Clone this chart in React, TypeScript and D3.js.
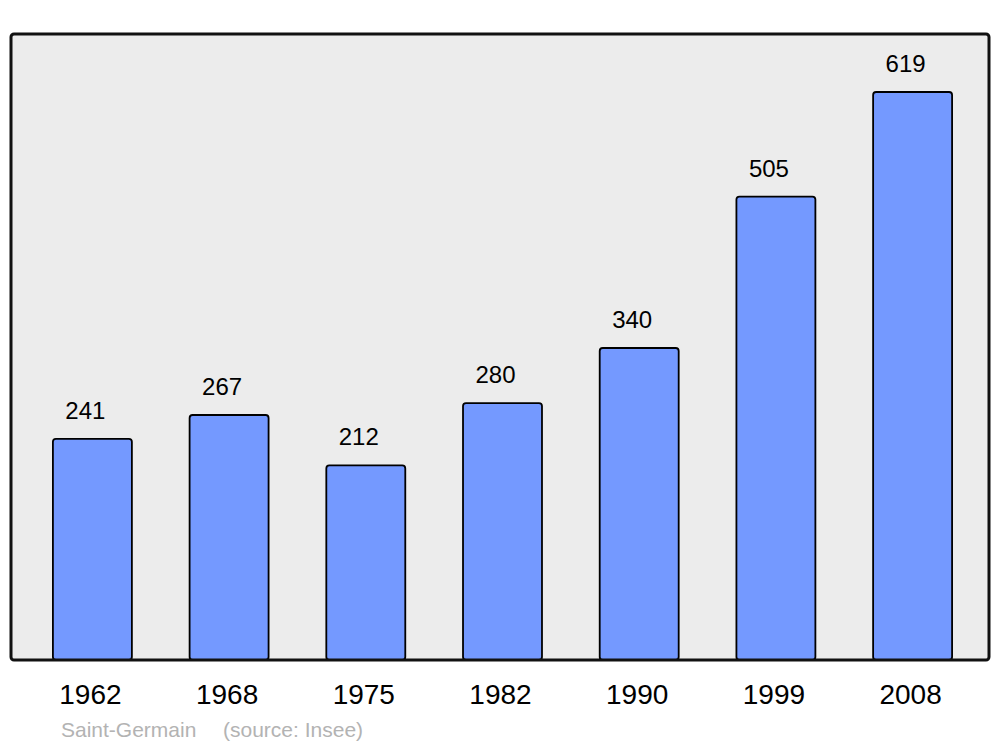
import React from "react";
import * as d3 from "d3";

const years = ["1962", "1968", "1975", "1982", "1990", "1999", "2008"];
const populations = [241, 267, 212, 280, 340, 505, 619];
const placeName = "Saint-Germain";
const sourceNote = "(source: Insee)";

const W = 1000;
const H = 747;
const frame = { left: 11, top: 34, right: 989, bottom: 660 };

export default function App() {
  const x = d3
    .scaleBand<string>()
    .domain(years)
    .range([16, 989])
    .paddingInner(0.4223)
    .paddingOuter(0.27);
  const y = d3
    .scaleLinear()
    .domain([0, 619])
    .range([frame.bottom, 92]);
  const bw = x.bandwidth();

  return (
    <svg
      width={W}
      height={H}
      style={{ position: "absolute", left: 0, top: 0 }}
      fontFamily="'Liberation Sans', Arial, sans-serif"
    >
      <rect x={0} y={0} width={W} height={H} fill="#ffffff" />
      <rect
        x={frame.left}
        y={frame.top}
        width={frame.right - frame.left}
        height={frame.bottom - frame.top}
        rx={3}
        fill="#ececec"
        stroke="none"
      />
      {years.map((yr, i) => {
        const x0 = x(yr)!;
        const yt = y(populations[i]);
        return (
          <g key={yr}>
            <rect
              x={x0}
              y={yt}
              width={bw}
              height={frame.bottom - yt}
              rx={3}
              fill="#7499ff"
              stroke="#000"
              strokeWidth={1.8}
            />
            <text
              x={x0 + bw / 2 - 7}
              y={yt - 20}
              fontSize={24}
              textAnchor="middle"
              fill="#000"
            >
              {populations[i]}
            </text>
            <text
              x={x0 + bw / 2 - 2}
              y={704}
              fontSize={28}
              textAnchor="middle"
              fill="#000"
            >
              {yr}
            </text>
          </g>
        );
      })}
      <rect
        x={frame.left}
        y={frame.top}
        width={frame.right - frame.left}
        height={frame.bottom - frame.top}
        rx={3}
        fill="none"
        stroke="#111"
        strokeWidth={3}
      />
      <text x={61} y={737} fontSize={21} fill="#b3b3b3">
        {placeName}
      </text>
      <text x={223} y={737} fontSize={21} fill="#b3b3b3">
        {sourceNote}
      </text>
    </svg>
  );
}
